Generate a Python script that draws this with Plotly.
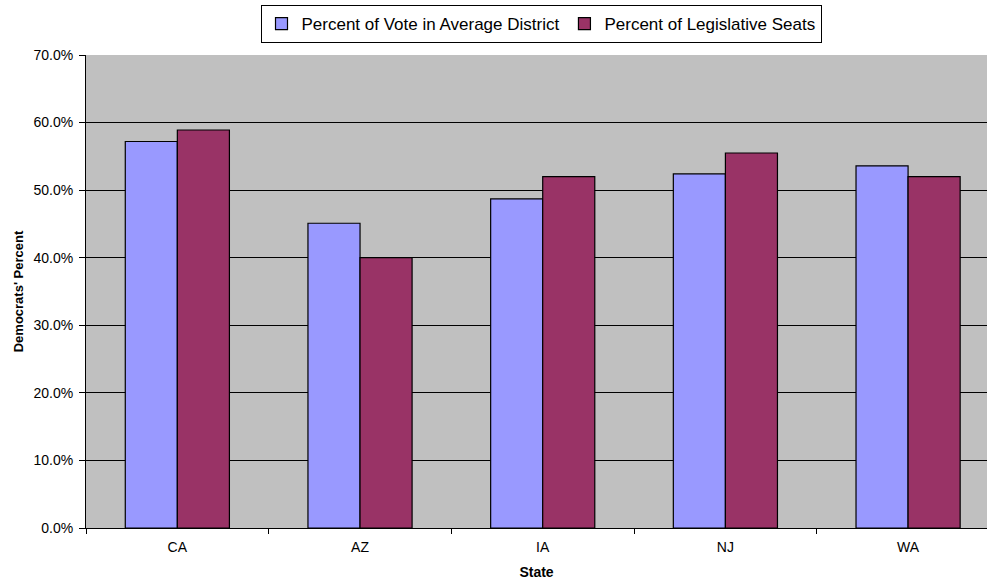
import plotly.graph_objects as go

# Democrats' share by state: average-district vote vs. legislative seats
states = ["CA", "AZ", "IA", "NJ", "WA"]
vote_pct = [57.2, 45.1, 48.7, 52.4, 53.6]
seat_pct = [58.9, 40.0, 52.0, 55.5, 52.0]
y_ticks = [0, 10, 20, 30, 40, 50, 60, 70]

FONT = "Liberation Sans, Arial, sans-serif"

fig = go.Figure()
fig.add_trace(go.Bar(
    x=states, y=vote_pct, name="Percent of Vote in Average District",
    marker=dict(color="#9999FF", line=dict(color="black", width=1.2)),
))
fig.add_trace(go.Bar(
    x=states, y=seat_pct, name="Percent of Legislative Seats",
    marker=dict(color="#993366", line=dict(color="black", width=1.2)),
))

fig.update_layout(
    width=987, height=580,
    margin=dict(l=86, r=0, t=55, b=52),
    paper_bgcolor="white",
    plot_bgcolor="#C0C0C0",
    barmode="group",
    bargap=0.43,
    bargroupgap=0,
    font=dict(family=FONT, size=14, color="black"),
    showlegend=True,
    legend=dict(
        orientation="h", x=0.505, xanchor="center",
        y=1.0 + (55 - 5) / 473, yanchor="top",
        bgcolor="white", bordercolor="black", borderwidth=1,
        font=dict(family=FONT, size=17, color="black"),
        traceorder="normal", itemwidth=30,
    ),
    xaxis=dict(
        title=dict(text="<b>State</b>", font=dict(size=14), standoff=13),
        range=[-0.5, 4.432],
        showline=True, linecolor="black", linewidth=1,
        ticks="outside", ticklen=5, tickcolor="black", tickson="boundaries",
        ticklabelstandoff=6,
        showgrid=False,
        tickfont=dict(size=14),
    ),
    yaxis=dict(
        title=dict(text="<b>Democrats' Percent</b>", font=dict(size=13), standoff=6),
        range=[0, 70], tickvals=y_ticks,
        ticktext=[f"{v:.1f}%" for v in y_ticks],
        showline=True, linecolor="black", linewidth=1,
        ticks="outside", ticklen=6, tickcolor="black",
        ticklabelstandoff=3,
        showgrid=True, gridcolor="black", gridwidth=1,
        zeroline=False,
        tickfont=dict(size=14),
    ),
)

fig.write_html("out.html")
